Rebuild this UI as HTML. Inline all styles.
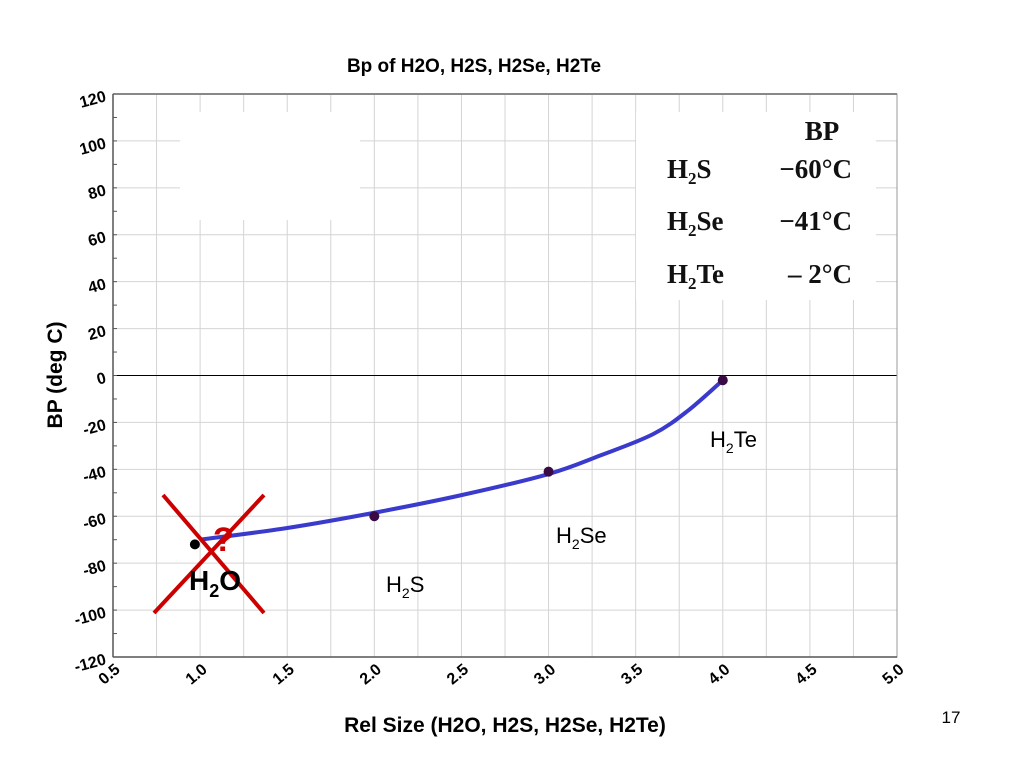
<!DOCTYPE html>
<html><head><meta charset="utf-8"><style>
body{margin:0;background:#fff;width:1024px;height:768px;overflow:hidden;font-family:"Liberation Sans",sans-serif}
</style></head><body>
<svg id="chart" width="1024" height="768" xmlns="http://www.w3.org/2000/svg">
<text x="474" y="72" font-size="19" font-weight="bold" text-anchor="middle" font-family="Liberation Sans Narrow, Liberation Sans, sans-serif">Bp of H2O, H2S, H2Se, H2Te</text>
<g id="grid"></g>
<g id="axes"></g>
<rect x="180" y="112" width="180" height="108" fill="#fff"/>
<rect x="636" y="112" width="240" height="188" fill="#fff"/>
<g font-family="Liberation Serif, serif" font-weight="bold" font-size="27" fill="#111">
<text x="822" y="140" text-anchor="middle">BP</text>
<text x="667" y="178">H<tspan font-size="17" dy="6">2</tspan><tspan dy="-6">S</tspan></text>
<text x="852" y="178" text-anchor="end">−60°C</text>
<text x="667" y="230">H<tspan font-size="17" dy="6">2</tspan><tspan dy="-6">Se</tspan></text>
<text x="852" y="230" text-anchor="end">−41°C</text>
<text x="667" y="283">H<tspan font-size="17" dy="6">2</tspan><tspan dy="-6">Te</tspan></text>
<text x="852" y="283" text-anchor="end">–  2°C</text>
</g>
<g id="series"></g>
<g stroke="#cc0000" stroke-width="4">
<line x1="163" y1="495" x2="264" y2="613"/><line x1="264" y1="495" x2="154" y2="613"/>
</g>
<text x="213" y="551" font-size="34" font-weight="bold" fill="#cc0000">?</text>
<text x="189" y="590" font-size="28" font-weight="bold">H<tspan font-size="18" dy="7">2</tspan><tspan dy="-7">O</tspan></text>
<text x="386" y="592" font-size="22">H<tspan font-size="14" dy="6">2</tspan><tspan dy="-6">S</tspan></text>
<text x="556" y="543" font-size="22">H<tspan font-size="14" dy="6">2</tspan><tspan dy="-6">Se</tspan></text>
<text x="710" y="447" font-size="22">H<tspan font-size="14" dy="6">2</tspan><tspan dy="-6">Te</tspan></text>
<text transform="translate(62,375) rotate(-90)" font-size="21" font-weight="bold" text-anchor="middle">BP (deg C)</text>
<text x="505" y="732" font-size="21" font-weight="bold" text-anchor="middle" font-family="Liberation Sans Narrow, Liberation Sans, sans-serif">Rel Size (H2O, H2S, H2Se, H2Te)</text>
<text x="951" y="723" font-size="17" text-anchor="middle">17</text>
</svg>
<script>
const xTicks=[0.5,1.0,1.5,2.0,2.5,3.0,3.5,4.0,4.5,5.0];
const yTicks=[120,100,80,60,40,20,0,-20,-40,-60,-80,-100,-120];
const pointX=[0.97,2,3,4];
const pointY=[-72,-60,-41,-2];
const curveX=[1.0,1.5,2.0,2.5,3.0,3.3,3.6,3.8,4.0];
const curveY=[-70,-65,-58.5,-51,-42,-34,-25,-15,-2];
const NS='http://www.w3.org/2000/svg';
const X0=113,X1=897,Y0=94,Y1=657;
const sx=v=>X0+(v-0.5)/4.5*(X1-X0);
const sy=v=>Y1-(v+120)/240*(Y1-Y0);
function mk(tag,at,parent){const e=document.createElementNS(NS,tag);for(const k in at)e.setAttribute(k,at[k]);parent.appendChild(e);return e;}
const grid=document.getElementById('grid'),axes=document.getElementById('axes'),ser=document.getElementById('series');
for(let v=0.75;v<5;v+=0.25){const l=mk('line',{x1:sx(v),x2:sx(v),y1:Y0,y2:Y1,stroke:'#d4d4d4','stroke-width':1},grid);

}
for(let v=-100;v<120;v+=20){const l=mk('line',{x1:X0,x2:X1,y1:sy(v),y2:sy(v),stroke:v===0?'#000':'#d4d4d4','stroke-width':1},grid);

}
mk('rect',{x:X0,y:Y0,width:X1-X0,height:Y1-Y0,fill:'none',stroke:'#999','stroke-width':1},axes);
mk('line',{x1:X0,x2:X1,y1:Y0,y2:Y0,stroke:'#888','stroke-width':2},axes);
mk('line',{x1:X0,x2:X0,y1:Y0,y2:Y1,stroke:'#555','stroke-width':1.5},axes);
mk('line',{x1:X0,x2:X1,y1:Y1,y2:Y1,stroke:'#555','stroke-width':1.5},axes);
for(let v=-110;v<120;v+=10){mk('line',{x1:X0,x2:X0+4,y1:sy(v),y2:sy(v),stroke:'#555'},axes);}
yTicks.forEach(v=>{const t=mk('text',{x:0,y:0,'font-size':16,'font-weight':'bold','text-anchor':'end',transform:`translate(${X0-6},${sy(v)+7}) rotate(-15)`},axes);t.textContent=String(v);

});
xTicks.forEach(v=>{const t=mk('text',{x:0,y:0,'font-size':16,'font-weight':'bold','text-anchor':'end',transform:`translate(${sx(v)+8},${Y1+14}) rotate(-40)`},axes);t.textContent=v.toFixed(1);

});
let d='';
const px=curveX.map(sx),py=curveY.map(sy);
d='M'+px[0]+','+py[0];
for(let i=0;i<px.length-1;i++){const p0=i>0?i-1:i,p3=i+2<px.length?i+2:i+1;
const c1x=px[i]+(px[i+1]-px[p0])/6,c1y=py[i]+(py[i+1]-py[p0])/6,c2x=px[i+1]-(px[p3]-px[i])/6,c2y=py[i+1]-(py[p3]-py[i])/6;
d+=` C${c1x},${c1y} ${c2x},${c2y} ${px[i+1]},${py[i+1]}`;}
const c=mk('path',{d:d,fill:'none',stroke:'#3a3acc','stroke-width':4},ser);


pointX.forEach((v,i)=>{const p=mk('circle',{cx:sx(v),cy:sy(pointY[i]),r:5,fill:i===0?'#000':'#3a0a45'},ser);

});
</script>
</body></html>
